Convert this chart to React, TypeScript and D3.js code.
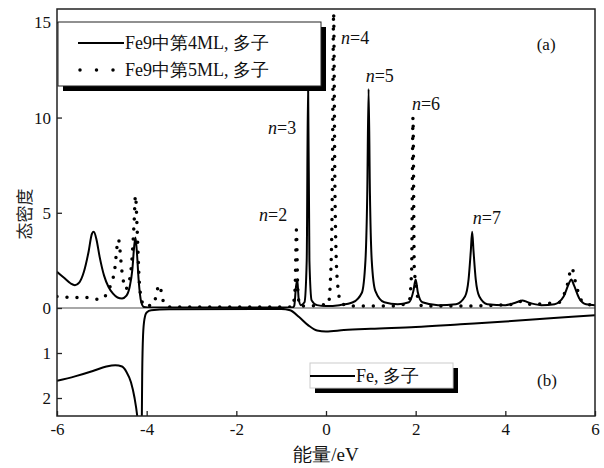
import React, { useEffect, useRef } from 'react';
import * as d3 from 'd3';

// energy (eV), density of states
const ml4Majority: [number, number][] = [
  [-6.0, 1.9], [-5.85, 1.6], [-5.7, 1.3], [-5.6, 1.2], [-5.5, 1.35], [-5.4, 1.9],
  [-5.3, 2.9], [-5.22, 3.9], [-5.18, 4.0], [-5.12, 3.6], [-5.05, 2.7], [-4.95, 1.7],
  [-4.85, 1.1], [-4.75, 0.75], [-4.65, 0.55], [-4.55, 0.5], [-4.45, 0.65], [-4.38, 1.1],
  [-4.32, 2.0], [-4.28, 3.2], [-4.25, 3.7], [-4.22, 3.0], [-4.18, 1.5], [-4.12, 0.3],
  [-4.06, 0.05], [-3.9, 0.02], [-2.0, 0.02], [-0.75, 0.02], [-0.71, 0.1], [-0.67, 1.1],
  [-0.64, 1.5], [-0.61, 0.5], [-0.56, 0.15], [-0.48, 0.3], [-0.43, 2.5], [-0.4, 12],
  [-0.37, 2.5], [-0.32, 0.4], [-0.2, 0.15], [0.0, 0.1], [0.3, 0.15], [0.6, 0.3],
  [0.8, 0.8], [0.88, 2.5], [0.92, 6], [0.95, 11.5], [0.98, 6], [1.02, 2.5], [1.1, 0.9],
  [1.3, 0.3], [1.6, 0.2], [1.85, 0.3], [1.95, 0.9], [2.0, 1.5], [2.05, 0.8], [2.15, 0.3],
  [2.5, 0.15], [2.9, 0.2], [3.1, 0.6], [3.18, 1.5], [3.23, 3.0], [3.26, 4.0], [3.29, 3.0],
  [3.34, 1.5], [3.42, 0.6], [3.6, 0.2], [4.0, 0.15], [4.25, 0.3], [4.38, 0.4], [4.5, 0.3],
  [4.8, 0.15], [5.1, 0.2], [5.3, 0.6], [5.42, 1.3], [5.47, 1.5], [5.53, 1.2], [5.65, 0.5],
  [5.8, 0.2], [6.0, 0.15],
];

const ml5Majority: [number, number][] = [
  [-6.0, 0.6], [-5.6, 0.55], [-5.35, 0.55], [-5.05, 0.45], [-4.9, 0.7], [-4.82, 1.1],
  [-4.72, 1.9], [-4.63, 3.6], [-4.55, 1.9], [-4.47, 1.0], [-4.4, 1.3], [-4.33, 2.5],
  [-4.28, 4.5], [-4.25, 5.9], [-4.21, 4.0], [-4.17, 1.6], [-4.12, 0.5], [-4.05, 0.1],
  [-3.85, 0.2], [-3.72, 1.2], [-3.62, 0.3], [-3.5, 0.05], [-2.0, 0.05], [-0.75, 0.05],
  [-0.69, 1.0], [-0.66, 4.1], [-0.63, 1.0], [-0.58, 0.1], [0.05, 0.2], [0.1, 1.5],
  [0.14, 6], [0.17, 15.5], [0.2, 6], [0.25, 1.5], [0.33, 0.3], [0.5, 0.1], [1.5, 0.1],
  [1.85, 0.3], [1.91, 2], [1.94, 10], [1.97, 2.0], [2.0, 1.4], [2.05, 0.5], [2.15, 0.1],
  [3.0, 0.1], [4.2, 0.2], [4.35, 0.35], [4.5, 0.2], [5.2, 0.3], [5.38, 1.2], [5.48, 2.1],
  [5.58, 1.2], [5.7, 0.4], [6.0, 0.1],
];

// bulk Fe majority, plotted downward in (b); two branches around the pole
const feLeft: [number, number][] = [
  [-6.0, 1.62], [-5.6, 1.52], [-5.2, 1.4], [-4.9, 1.3], [-4.7, 1.27], [-4.55, 1.3],
  [-4.45, 1.42], [-4.35, 1.65], [-4.27, 2.0], [-4.21, 2.4], [-4.18, 2.7],
];
const feRight: [number, number][] = [
  [-4.11, 2.7], [-4.1, 1.5], [-4.08, 0.6], [-4.05, 0.25], [-4.0, 0.1], [-3.9, 0.05],
  [-3.5, 0.03], [-1.0, 0.02], [-0.8, 0.05], [-0.6, 0.2], [-0.4, 0.38], [-0.2, 0.5],
  [0.0, 0.52], [0.4, 0.49], [1.0, 0.46], [2.0, 0.42], [3.0, 0.36], [4.0, 0.3],
  [5.0, 0.23], [6.0, 0.16],
];

const xTicks = [-6, -4, -2, 0, 2, 4, 6];
const yTicksA = [0, 5, 10, 15];
const yTicksB = [1, 2];

const peakLabels = [
  { n: '2', e: -1.18, v: 4.9 },
  { n: '3', e: -0.98, v: 9.47 },
  { n: '4', e: 0.65, v: 14.2 },
  { n: '5', e: 1.2, v: 12.2 },
  { n: '6', e: 2.23, v: 10.7 },
  { n: '7', e: 3.59, v: 4.74 },
];

const legendA = ['Fe9中第4ML, 多子', 'Fe9中第5ML, 多子'];
const legendB = 'Fe, 多子';

const SERIF = "'Liberation Serif', serif";

const DosChart = () => {
  const width = 604;
  const height = 468;
  const margin = { top: 9, right: 9, bottom: 52, left: 57 };
  const zeroY = 308;
  const ref = useRef<SVGSVGElement | null>(null);

  useEffect(() => {
    const svg = d3.select(ref.current);
    svg.selectAll('*').remove();

    const x = d3.scaleLinear().domain([-6, 6]).range([margin.left, width - margin.right]);
    const yA = d3.scaleLinear().domain([0, 15.7]).range([zeroY, margin.top]);
    const yB = d3.scaleLinear().domain([0, 2.4]).range([zeroY, height - margin.bottom]);

    const defs = svg.append('defs');
    defs.append('clipPath').attr('id', 'clipA').append('rect')
      .attr('x', x(-6)).attr('y', yA(15.7)).attr('width', x(6) - x(-6)).attr('height', zeroY - yA(15.7));
    defs.append('clipPath').attr('id', 'clipB').append('rect')
      .attr('x', x(-6)).attr('y', zeroY).attr('width', x(6) - x(-6)).attr('height', yB(2.4) - zeroY);

    // zero line
    svg.append('line')
      .attr('x1', x(-6)).attr('x2', x(6)).attr('y1', zeroY).attr('y2', zeroY)
      .attr('stroke', '#a8a8a8').attr('stroke-width', 2);

    const lineA = d3.line<[number, number]>().x((d) => x(d[0])).y((d) => yA(d[1])).curve(d3.curveMonotoneX);
    const lineB = d3.line<[number, number]>().x((d) => x(d[0])).y((d) => yB(d[1])).curve(d3.curveMonotoneX);

    const gA = svg.append('g').attr('clip-path', 'url(#clipA)');
    gA.append('path').attr('d', lineA(ml4Majority))
      .attr('fill', 'none').attr('stroke', '#000').attr('stroke-width', 2);
    gA.append('path').attr('d', lineA(ml5Majority))
      .attr('fill', 'none').attr('stroke', '#000').attr('stroke-width', 3.5)
      .attr('stroke-linecap', 'round').attr('stroke-dasharray', '0 10');

    const gB = svg.append('g').attr('clip-path', 'url(#clipB)');
    [feLeft, feRight].forEach((s) => {
      gB.append('path').attr('d', lineB(s))
        .attr('fill', 'none').attr('stroke', '#000').attr('stroke-width', 2);
    });

    // axes with inward ticks
    const styleAxis = (g: d3.Selection<SVGGElement, unknown, null, undefined>) => {
      g.select('.domain').remove();
      g.selectAll('.tick line').attr('stroke', '#222').attr('stroke-width', 1.3);
      g.selectAll('.tick text').attr('fill', '#111').style('font-family', SERIF).style('font-size', '17px');
    };

    svg.append('g').attr('transform', `translate(${margin.left},0)`)
      .call(d3.axisLeft(yA).tickValues(yTicksA).tickSize(-5).tickPadding(6).tickFormat((d) => String(d)))
      .call(styleAxis);
    svg.append('g').attr('transform', `translate(${margin.left},0)`)
      .call(d3.axisLeft(yB).tickValues(yTicksB).tickSize(-5).tickPadding(6).tickFormat((d) => String(d)))
      .call(styleAxis);
    svg.append('g').attr('transform', `translate(0,${height - margin.bottom})`)
      .call(d3.axisBottom(x).tickValues(xTicks).tickSize(-5).tickPadding(7).tickFormat((d) => String(d)))
      .call(styleAxis);

    // frame
    svg.append('rect')
      .attr('x', x(-6)).attr('y', yA(15.7)).attr('width', x(6) - x(-6)).attr('height', yB(2.4) - yA(15.7))
      .attr('fill', 'none').attr('stroke', '#222').attr('stroke-width', 1.5);

    const addText = (px: number, py: number, txt: string, size: number, anchor = 'start') =>
      svg.append('text').attr('x', px).attr('y', py).attr('text-anchor', anchor).attr('fill', '#111')
        .style('font-family', SERIF).style('font-size', `${size}px`).text(txt);

    // legend (a)
    const la = { x: 58, y: 22, w: 263, h: 64 };
    svg.append('rect').attr('x', la.x + 5).attr('y', la.y + 5).attr('width', la.w).attr('height', la.h).attr('fill', '#000');
    svg.append('rect').attr('x', la.x).attr('y', la.y).attr('width', la.w).attr('height', la.h)
      .attr('fill', '#fff').attr('stroke', '#222').attr('stroke-width', 1);
    legendA.forEach((t, i) => {
      const cy = la.y + 21 + i * 27;
      const l = svg.append('line').attr('x1', i ? 80 : 78).attr('x2', 124).attr('y1', cy).attr('y2', cy)
        .attr('stroke', '#000');
      if (i) l.attr('stroke-width', 3.5).attr('stroke-linecap', 'round').attr('stroke-dasharray', '0 16.5');
      else l.attr('stroke-width', 2);
      addText(125, cy + 6, t, 18);
    });

    // legend (b)
    const lb = { x: 310, y: 363, w: 143, h: 25 };
    svg.append('rect').attr('x', lb.x + 5).attr('y', lb.y + 5).attr('width', lb.w).attr('height', lb.h).attr('fill', '#000');
    svg.append('rect').attr('x', lb.x).attr('y', lb.y).attr('width', lb.w).attr('height', lb.h)
      .attr('fill', '#fff').attr('stroke', '#ccc').attr('stroke-width', 1);
    svg.append('line').attr('x1', lb.x).attr('x2', lb.x + 45).attr('y1', lb.y + 13).attr('y2', lb.y + 13)
      .attr('stroke', '#000').attr('stroke-width', 2);
    addText(lb.x + 46, lb.y + 19, legendB, 18);

    // peak labels
    peakLabels.forEach((p) => {
      const t = addText(x(p.e), yA(p.v) + 6, '', 18, 'middle');
      t.append('tspan').style('font-style', 'italic').text('n');
      t.append('tspan').text('=' + p.n);
    });

    addText(x(4.91), yA(13.84) + 6, '(a)', 17, 'middle');
    addText(x(4.93), yB(1.6) + 6, '(b)', 17, 'middle');

    // axis titles
    addText(x(0), 461, '能量/eV', 19, 'middle');
    svg.append('text').attr('transform', `translate(31,214) rotate(-90)`).attr('text-anchor', 'middle')
      .attr('fill', '#222').style('font-family', "'Noto Sans CJK SC', sans-serif").style('font-size', '17px')
      .text('态密度');
  }, []);

  return (
    <svg
      ref={ref}
      width={width}
      height={height}
      style={{ position: 'absolute', left: 0, top: 0, background: '#fff' }}
    />
  );
};

export default function App() {
  return <DosChart />;
}
